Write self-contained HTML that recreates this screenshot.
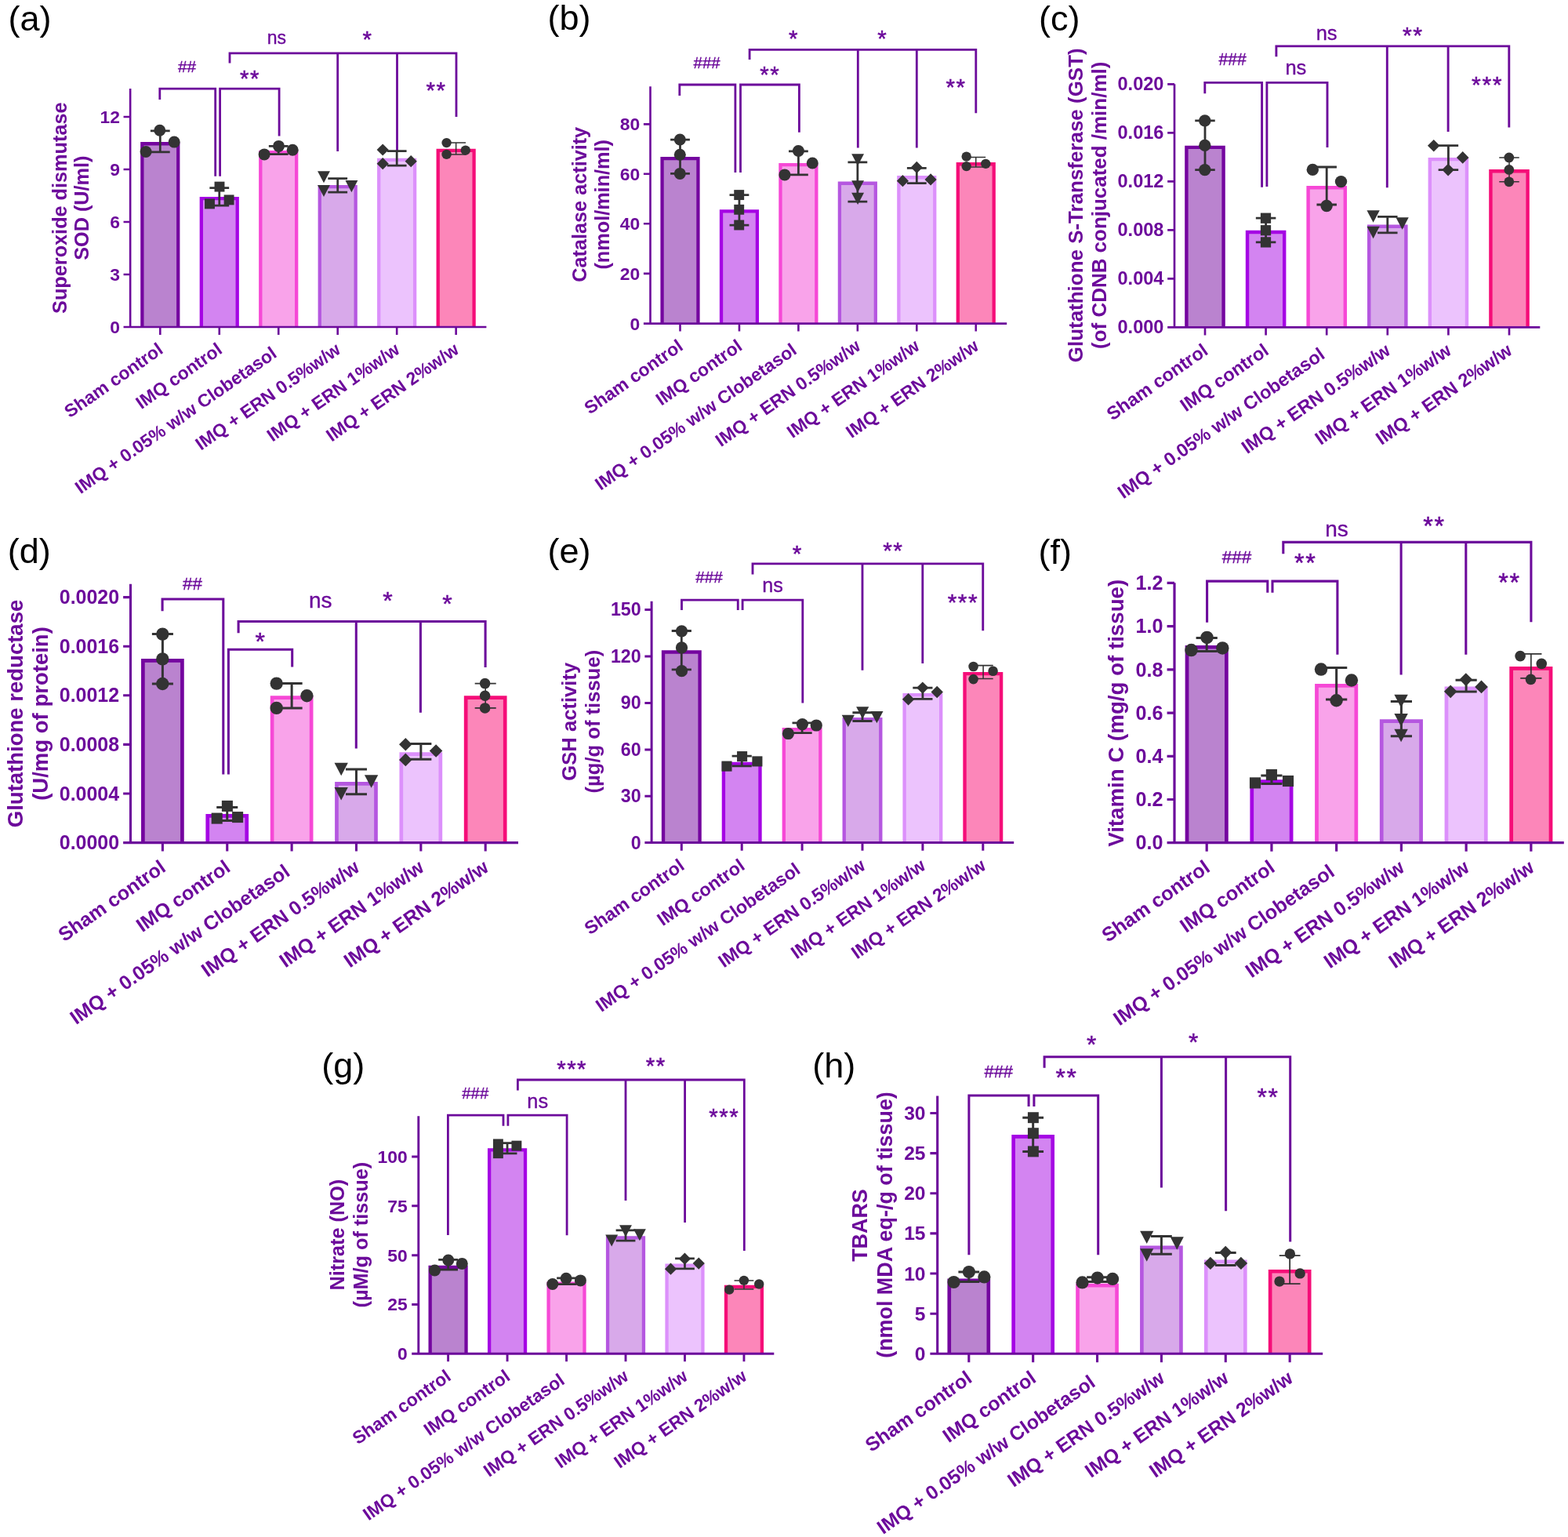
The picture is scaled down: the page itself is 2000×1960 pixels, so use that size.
<!DOCTYPE html>
<html lang="en">
<head>
<meta charset="utf-8">
<title>Antioxidant enzyme levels</title>
<style>
html,body{margin:0;padding:0;background:#fff}
body{width:2000px;height:1960px;overflow:hidden}
svg{display:block}
text{font-family:"Liberation Sans",sans-serif}
.pl{font-size:45px;fill:#000}
.b{font-weight:bold;fill:#6c0a9b}
.s{fill:#6c0a9b;stroke:#6c0a9b;stroke-width:0.35px}
.a{stroke-width:0.5px}
</style>
</head>
<body>
<svg width="2000" height="1960" viewBox="0 0 2000 1960">
<rect width="2000" height="1960" fill="#ffffff"/>
<g>
<text class="pl" x="10.45" y="38.6">(a)</text>
<text class="b" style="font-size:25.25px" text-anchor="middle" transform="translate(84.5 265.2) rotate(-90)">Superoxide dismutase</text>
<text class="b" style="font-size:25.25px" text-anchor="middle" transform="translate(113.2 265.2) rotate(-90)">SOD (U/ml)</text>
<path d="M181.35 417V183.25H227.25V417" fill="#ba83cf" stroke="#74059f" stroke-width="4.3"/>
<path d="M256.82 417V253.15H302.72V417" fill="#d384f1" stroke="#a505e4" stroke-width="4.3"/>
<path d="M332.29 417V194.05H378.19V417" fill="#f9a3ea" stroke="#f648d6" stroke-width="4.3"/>
<path d="M407.76 417V238.05H453.66V417" fill="#d8a9ea" stroke="#b557e0" stroke-width="4.3"/>
<path d="M483.23 417V203.95H529.13V417" fill="#ecc3fd" stroke="#dc90fb" stroke-width="4.3"/>
<path d="M558.7 417V191.85H604.6V417" fill="#fc86b9" stroke="#f50d78" stroke-width="4.3"/>
<g stroke="#6c0a9b" stroke-width="2.6" fill="none">
<path d="M166.15 113.1V417M157.55 417H620.4M157.55 149H166.15M157.55 216H166.15M157.55 283H166.15M157.55 350H166.15M204.3 417V426.9M279.77 417V426.9M355.24 417V426.9M430.71 417V426.9M506.18 417V426.9M581.65 417V426.9"/>
</g>
<g class="b" style="font-size:22.9px">
<text text-anchor="end" x="152.95" y="156.95">12</text>
<text text-anchor="end" x="152.95" y="223.95">9</text>
<text text-anchor="end" x="152.95" y="290.95">6</text>
<text text-anchor="end" x="152.95" y="357.95">3</text>
<text text-anchor="end" x="152.95" y="424.95">0</text>
<text text-anchor="end" style="font-size:23px" transform="translate(209.5 449.2) rotate(-35)">Sham control</text>
<text text-anchor="end" style="font-size:23px" transform="translate(284.97 449.2) rotate(-35)">IMQ control</text>
<text text-anchor="end" style="font-size:23px" transform="translate(354.54 454.2) rotate(-35)">IMQ + 0.05% w/w Clobetasol</text>
<text text-anchor="end" style="font-size:23px" transform="translate(435.91 449.2) rotate(-35)">IMQ + ERN 0.5%w/w</text>
<text text-anchor="end" style="font-size:23px" transform="translate(511.38 449.2) rotate(-35)">IMQ + ERN 1%w/w</text>
<text text-anchor="end" style="font-size:23px" transform="translate(586.85 449.2) rotate(-35)">IMQ + ERN 2%w/w</text>
</g>
<g stroke="#6c0a9b" stroke-width="2.8" fill="none" stroke-linejoin="miter">
<path d="M203.8 126.9V113.1H274.7V224.7"/>
<path d="M280.6 224.7V113.1H356.1V173.5"/>
<path d="M293 80.5V67.8H582V149M430.7 67.8V193M506.5 67.8V192"/>
</g>
<text class="s" style="font-size:20.8px" text-anchor="middle" x="238.6" y="91.68">##</text>
<text class="s" style="font-size:23px" text-anchor="middle" x="352.8" y="56.09">ns</text>
<text class="s a" style="font-size:29.47px;letter-spacing:1.49px" text-anchor="middle" x="469.04" y="60.13">*</text>
<text class="s a" style="font-size:29.47px;letter-spacing:1.49px" text-anchor="middle" x="319.04" y="109.73">**</text>
<text class="s a" style="font-size:29.47px;letter-spacing:1.49px" text-anchor="middle" x="556.54" y="125.33">**</text>
<g fill="#333333" stroke="none">
<path stroke="#333333" stroke-width="2.75" fill="none" d="M204.3 166.8V193.9M191.9 166.8H216.7M191.9 193.9H216.7"/>
<path stroke="#333333" stroke-width="2.75" fill="none" d="M279.77 239.6V262.2M267.37 239.6H292.17M267.37 262.2H292.17"/>
<path stroke="#333333" stroke-width="2.75" fill="none" d="M355.24 186.4V196.5M342.84 186.4H367.64M342.84 196.5H367.64"/>
<path stroke="#333333" stroke-width="2.75" fill="none" d="M430.71 227.5V245.1M418.31 227.5H443.11M418.31 245.1H443.11"/>
<path stroke="#333333" stroke-width="2.75" fill="none" d="M506.18 192.6V211M493.78 192.6H518.58M493.78 211H518.58"/>
<path stroke="#333333" stroke-width="1.5" fill="none" d="M581.65 182.1V196.9M569.25 182.1H594.05M569.25 196.9H594.05"/>
<circle cx="203.8" cy="166.3" r="7.5"/>
<circle cx="222.2" cy="181.1" r="7.5"/>
<circle cx="186.1" cy="193.5" r="7.5"/>
<rect x="273.55" y="231.65" width="12.9" height="12.9"/>
<rect x="285.65" y="248.45" width="12.9" height="12.9"/>
<rect x="261.05" y="253.45" width="12.9" height="12.9"/>
<circle cx="355.5" cy="186.4" r="7.5"/>
<circle cx="373.2" cy="191.3" r="7.5"/>
<circle cx="337.1" cy="196.9" r="7.5"/>
<path d="M405.05 218.25H420.95L413 233.35Z"/>
<path d="M440.45 230.05H456.35L448.4 245.15Z"/>
<path d="M405.05 235.95H420.95L413 251.05Z"/>
<path d="M488.2 183.4L495.8 191L488.2 198.6L480.6 191Z"/>
<path d="M524.2 198.1L531.8 205.7L524.2 213.3L516.6 205.7Z"/>
<path d="M488.2 201.1L495.8 208.7L488.2 216.3L480.6 208.7Z"/>
<circle cx="569.6" cy="182.1" r="6.2"/>
<circle cx="593.8" cy="191.7" r="6.2"/>
<circle cx="569.6" cy="196.9" r="6.2"/>
</g>
</g>
<g>
<text class="pl" x="698.4" y="38.3">(b)</text>
<text class="b" style="font-size:25.25px" text-anchor="middle" transform="translate(748 260.8) rotate(-90)">Catalase activity</text>
<text class="b" style="font-size:25.25px" text-anchor="middle" transform="translate(777.1 260.8) rotate(-90)">(nmol/min/ml)</text>
<path d="M844.55 412.6V202.15H890.45V412.6" fill="#ba83cf" stroke="#74059f" stroke-width="4.3"/>
<path d="M920 412.6V269.45H965.9V412.6" fill="#d384f1" stroke="#a505e4" stroke-width="4.3"/>
<path d="M995.45 412.6V210.15H1041.35V412.6" fill="#f9a3ea" stroke="#f648d6" stroke-width="4.3"/>
<path d="M1070.9 412.6V233.75H1116.8V412.6" fill="#d8a9ea" stroke="#b557e0" stroke-width="4.3"/>
<path d="M1146.35 412.6V226.25H1192.25V412.6" fill="#ecc3fd" stroke="#dc90fb" stroke-width="4.3"/>
<path d="M1221.8 412.6V209.25H1267.7V412.6" fill="#fc86b9" stroke="#f50d78" stroke-width="4.3"/>
<g stroke="#6c0a9b" stroke-width="2.6" fill="none">
<path d="M829.5 110.2V412.6M820.9 412.6H1284.2M820.9 158.4H829.5M820.9 221.8H829.5M820.9 285.2H829.5M820.9 348.9H829.5M867.5 412.6V422.5M942.95 412.6V422.5M1018.4 412.6V422.5M1093.85 412.6V422.5M1169.3 412.6V422.5M1244.75 412.6V422.5"/>
</g>
<g class="b" style="font-size:22.9px">
<text text-anchor="end" x="816.3" y="166.35">80</text>
<text text-anchor="end" x="816.3" y="229.75">60</text>
<text text-anchor="end" x="816.3" y="293.15">40</text>
<text text-anchor="end" x="816.3" y="356.85">20</text>
<text text-anchor="end" x="816.3" y="420.55">0</text>
<text text-anchor="end" style="font-size:23px" transform="translate(872.7 444.8) rotate(-35)">Sham control</text>
<text text-anchor="end" style="font-size:23px" transform="translate(948.15 444.8) rotate(-35)">IMQ control</text>
<text text-anchor="end" style="font-size:23px" transform="translate(1017.7 449.8) rotate(-35)">IMQ + 0.05% w/w Clobetasol</text>
<text text-anchor="end" style="font-size:23px" transform="translate(1099.05 444.8) rotate(-35)">IMQ + ERN 0.5%w/w</text>
<text text-anchor="end" style="font-size:23px" transform="translate(1174.5 444.8) rotate(-35)">IMQ + ERN 1%w/w</text>
<text text-anchor="end" style="font-size:23px" transform="translate(1249.95 444.8) rotate(-35)">IMQ + ERN 2%w/w</text>
</g>
<g stroke="#6c0a9b" stroke-width="2.8" fill="none" stroke-linejoin="miter">
<path d="M866.8 122V108H937.9V220"/>
<path d="M944.5 220V108H1019.4V168.75"/>
<path d="M956.1 75.9V63.4H1244.8V144.3M1094.3 63.4V188.4M1169.3 63.4V188.4"/>
</g>
<text class="s" style="font-size:20.5px" text-anchor="middle" x="901.6" y="87.42">###</text>
<text class="s a" style="font-size:29.47px;letter-spacing:1.49px" text-anchor="middle" x="982.14" y="105.33">**</text>
<text class="s a" style="font-size:29.47px;letter-spacing:1.49px" text-anchor="middle" x="1012.44" y="58.93">*</text>
<text class="s a" style="font-size:29.47px;letter-spacing:1.49px" text-anchor="middle" x="1125.74" y="58.93">*</text>
<text class="s a" style="font-size:29.47px;letter-spacing:1.49px" text-anchor="middle" x="1219.49" y="120.93">**</text>
<g fill="#333333" stroke="none">
<path stroke="#333333" stroke-width="2.75" fill="none" d="M867.5 178V221.4M855.1 178H879.9M855.1 221.4H879.9"/>
<path stroke="#333333" stroke-width="2.75" fill="none" d="M942.95 248.6V287M930.55 248.6H955.35M930.55 287H955.35"/>
<path stroke="#333333" stroke-width="2.75" fill="none" d="M1018.4 192.9V222.9M1006 192.9H1030.8M1006 222.9H1030.8"/>
<path stroke="#333333" stroke-width="2.75" fill="none" d="M1093.85 206.8V257.1M1081.45 206.8H1106.25M1081.45 257.1H1106.25"/>
<path stroke="#333333" stroke-width="2.75" fill="none" d="M1169.3 214.3V233.6M1156.9 214.3H1181.7M1156.9 233.6H1181.7"/>
<path stroke="#333333" stroke-width="1.5" fill="none" d="M1244.75 200.4V212.9M1232.35 200.4H1257.15M1232.35 212.9H1257.15"/>
<circle cx="867.3" cy="178" r="7.5"/>
<circle cx="867.3" cy="197.3" r="7.5"/>
<circle cx="867.3" cy="221.4" r="7.5"/>
<rect x="936.25" y="242.15" width="12.9" height="12.9"/>
<rect x="936.25" y="260.85" width="12.9" height="12.9"/>
<rect x="936.25" y="280.55" width="12.9" height="12.9"/>
<circle cx="1018.4" cy="192.5" r="7.5"/>
<circle cx="1036.25" cy="208" r="7.5"/>
<circle cx="1000.9" cy="222.9" r="7.5"/>
<path d="M1086.15 196.15H1102.05L1094.1 211.25Z"/>
<path d="M1086.15 230.15H1102.05L1094.1 245.25Z"/>
<path d="M1086.15 245.85H1102.05L1094.1 260.95Z"/>
<path d="M1169.3 205.8L1176.9 213.4L1169.3 221L1161.7 213.4Z"/>
<path d="M1151.4 223.1L1159 230.7L1151.4 238.3L1143.8 230.7Z"/>
<path d="M1187.1 221.3L1194.7 228.9L1187.1 236.5L1179.5 228.9Z"/>
<circle cx="1232.7" cy="199.6" r="6.2"/>
<circle cx="1232.7" cy="212.1" r="6.2"/>
<circle cx="1257.3" cy="208.9" r="6.2"/>
</g>
</g>
<g>
<text class="pl" x="1325" y="38.6">(c)</text>
<text class="b" style="font-size:25.96px" text-anchor="middle" transform="translate(1380.7 261.8) rotate(-90)">Glutathione S-Transferase (GST)</text>
<text class="b" style="font-size:25.96px" text-anchor="middle" transform="translate(1411.4 261.8) rotate(-90)">(of CDNB conjucated /min/ml)</text>
<path d="M1513.41 417.3V187.91H1560.59V417.3" fill="#ba83cf" stroke="#74059f" stroke-width="4.42"/>
<path d="M1591.01 417.3V295.96H1638.19V417.3" fill="#d384f1" stroke="#a505e4" stroke-width="4.42"/>
<path d="M1668.61 417.3V239.31H1715.79V417.3" fill="#f9a3ea" stroke="#f648d6" stroke-width="4.42"/>
<path d="M1746.21 417.3V288.81H1793.39V417.3" fill="#d8a9ea" stroke="#b557e0" stroke-width="4.42"/>
<path d="M1823.81 417.3V203.11H1870.99V417.3" fill="#ecc3fd" stroke="#dc90fb" stroke-width="4.42"/>
<path d="M1901.41 417.3V218.31H1948.59V417.3" fill="#fc86b9" stroke="#f50d78" stroke-width="4.42"/>
<g stroke="#6c0a9b" stroke-width="2.67" fill="none">
<path d="M1498 107.3V417.3M1489.16 417.3H1964.3M1489.16 107.3H1498M1489.16 169.3H1498M1489.16 231.3H1498M1489.16 293.3H1498M1489.16 355.3H1498M1537 417.3V427.48M1614.6 417.3V427.48M1692.2 417.3V427.48M1769.8 417.3V427.48M1847.4 417.3V427.48M1925 417.3V427.48"/>
</g>
<g class="b" style="font-size:23.54px">
<text text-anchor="end" x="1484.43" y="115.47">0.020</text>
<text text-anchor="end" x="1484.43" y="177.47">0.016</text>
<text text-anchor="end" x="1484.43" y="239.47">0.012</text>
<text text-anchor="end" x="1484.43" y="301.47">0.008</text>
<text text-anchor="end" x="1484.43" y="363.47">0.004</text>
<text text-anchor="end" x="1484.43" y="425.47">0.000</text>
<text text-anchor="end" style="font-size:23.64px" transform="translate(1542.35 450.4) rotate(-35)">Sham control</text>
<text text-anchor="end" style="font-size:23.64px" transform="translate(1619.95 450.4) rotate(-35)">IMQ control</text>
<text text-anchor="end" style="font-size:23.64px" transform="translate(1691.48 455.54) rotate(-35)">IMQ + 0.05% w/w Clobetasol</text>
<text text-anchor="end" style="font-size:23.64px" transform="translate(1775.15 450.4) rotate(-35)">IMQ + ERN 0.5%w/w</text>
<text text-anchor="end" style="font-size:23.64px" transform="translate(1852.75 450.4) rotate(-35)">IMQ + ERN 1%w/w</text>
<text text-anchor="end" style="font-size:23.64px" transform="translate(1930.35 450.4) rotate(-35)">IMQ + ERN 2%w/w</text>
</g>
<g stroke="#6c0a9b" stroke-width="2.88" fill="none" stroke-linejoin="miter">
<path d="M1536.8 119.3V105.4H1609.6V238.75"/>
<path d="M1615.9 238V105.4H1693V187.9"/>
<path d="M1627.9 72.3V58.9H1924.8V162.5M1769.3 58.9V239.3M1847.1 58.9V167.9"/>
</g>
<text class="s" style="font-size:21.2px" text-anchor="middle" x="1572.1" y="83.31">###</text>
<text class="s" style="font-size:25.5px" text-anchor="middle" x="1652.9" y="95.26">ns</text>
<text class="s" style="font-size:25.5px" text-anchor="middle" x="1692.1" y="51.36">ns</text>
<text class="s a" style="font-size:30.3px;letter-spacing:1.53px" text-anchor="middle" x="1802.37" y="55.45">**</text>
<text class="s a" style="font-size:30.3px;letter-spacing:1.53px" text-anchor="middle" x="1897.07" y="118.15">***</text>
<g fill="#333333" stroke="none">
<path stroke="#333333" stroke-width="2.83" fill="none" d="M1537 153.9V216.6M1524.25 153.9H1549.75M1524.25 216.6H1549.75"/>
<path stroke="#333333" stroke-width="2.83" fill="none" d="M1614.6 278.2V308.9M1601.85 278.2H1627.35M1601.85 308.9H1627.35"/>
<path stroke="#333333" stroke-width="2.83" fill="none" d="M1692.2 213V261M1679.45 213H1704.95M1679.45 261H1704.95"/>
<path stroke="#333333" stroke-width="2.83" fill="none" d="M1769.8 276.4V296.8M1757.05 276.4H1782.55M1757.05 296.8H1782.55"/>
<path stroke="#333333" stroke-width="2.83" fill="none" d="M1847.4 185.7V216.6M1834.65 185.7H1860.15M1834.65 216.6H1860.15"/>
<path stroke="#333333" stroke-width="1.55" fill="none" d="M1925 200.9V231.8M1912.25 200.9H1937.75M1912.25 231.8H1937.75"/>
<circle cx="1536.8" cy="153.9" r="7.71"/>
<circle cx="1536.8" cy="185.4" r="7.71"/>
<circle cx="1536.8" cy="216.6" r="7.71"/>
<rect x="1607.87" y="271.57" width="13.26" height="13.26"/>
<rect x="1607.87" y="287.12" width="13.26" height="13.26"/>
<rect x="1607.87" y="302.27" width="13.26" height="13.26"/>
<circle cx="1674.3" cy="216.4" r="7.71"/>
<circle cx="1710.5" cy="231.6" r="7.71"/>
<circle cx="1692.1" cy="262.5" r="7.71"/>
<path d="M1743.43 268.34H1759.77L1751.6 283.86Z"/>
<path d="M1780.43 277.24H1796.77L1788.6 292.76Z"/>
<path d="M1743.43 288.84H1759.77L1751.6 304.36Z"/>
<path d="M1828.75 177.89L1836.56 185.7L1828.75 193.51L1820.94 185.7Z"/>
<path d="M1865.7 193.09L1873.51 200.9L1865.7 208.71L1857.89 200.9Z"/>
<path d="M1847.1 208.79L1854.91 216.6L1847.1 224.41L1839.29 216.6Z"/>
<circle cx="1924.8" cy="200.9" r="6.37"/>
<circle cx="1924.8" cy="216.4" r="6.37"/>
<circle cx="1924.8" cy="231.8" r="6.37"/>
</g>
</g>
<g>
<text class="pl" x="9.85" y="718.45">(d)</text>
<text class="b" style="font-size:27.52px" text-anchor="middle" transform="translate(29.4 910) rotate(-90)">Glutathione reductase</text>
<text class="b" style="font-size:27.52px" text-anchor="middle" transform="translate(61 910) rotate(-90)">(U/mg of protein)</text>
<path d="M182.38 1074.6V842.34H232.42V1074.6" fill="#ba83cf" stroke="#74059f" stroke-width="4.69"/>
<path d="M264.74 1074.6V1040.44H314.78V1074.6" fill="#d384f1" stroke="#a505e4" stroke-width="4.69"/>
<path d="M347.1 1074.6V889.64H397.14V1074.6" fill="#f9a3ea" stroke="#f648d6" stroke-width="4.69"/>
<path d="M429.46 1074.6V999.44H479.5V1074.6" fill="#d8a9ea" stroke="#b557e0" stroke-width="4.69"/>
<path d="M511.82 1074.6V961.64H561.86V1074.6" fill="#ecc3fd" stroke="#dc90fb" stroke-width="4.69"/>
<path d="M594.18 1074.6V889.64H644.22V1074.6" fill="#fc86b9" stroke="#f50d78" stroke-width="4.69"/>
<g stroke="#6c0a9b" stroke-width="3.1" fill="none">
<path d="M166.5 744.8V1074.6M157.13 1074.6H661M157.13 761.6H166.5M157.13 824.2H166.5M157.13 886.8H166.5M157.13 949.4H166.5M157.13 1012H166.5M207.4 1074.6V1085.52M289.76 1074.6V1085.52M372.12 1074.6V1085.52M454.48 1074.6V1085.52M536.84 1074.6V1085.52M619.2 1074.6V1085.52"/>
</g>
<g class="b" style="font-size:24.96px">
<text text-anchor="end" x="152.11" y="770.26">0.0020</text>
<text text-anchor="end" x="152.11" y="832.86">0.0016</text>
<text text-anchor="end" x="152.11" y="895.46">0.0012</text>
<text text-anchor="end" x="152.11" y="958.06">0.0008</text>
<text text-anchor="end" x="152.11" y="1020.66">0.0004</text>
<text text-anchor="end" x="152.11" y="1083.26">0.0000</text>
<text text-anchor="end" style="font-size:25.07px" transform="translate(213.07 1109.7) rotate(-35)">Sham control</text>
<text text-anchor="end" style="font-size:25.07px" transform="translate(295.43 1109.7) rotate(-35)">IMQ control</text>
<text text-anchor="end" style="font-size:25.07px" transform="translate(371.36 1115.15) rotate(-35)">IMQ + 0.05% w/w Clobetasol</text>
<text text-anchor="end" style="font-size:25.07px" transform="translate(460.15 1109.7) rotate(-35)">IMQ + ERN 0.5%w/w</text>
<text text-anchor="end" style="font-size:25.07px" transform="translate(542.51 1109.7) rotate(-35)">IMQ + ERN 1%w/w</text>
<text text-anchor="end" style="font-size:25.07px" transform="translate(624.87 1109.7) rotate(-35)">IMQ + ERN 2%w/w</text>
</g>
<g stroke="#6c0a9b" stroke-width="3.05" fill="none" stroke-linejoin="miter">
<path d="M207.1 779.3V763.9H284.8V987.4"/>
<path d="M291.4 987.4V828.3H372.7V850.4"/>
<path d="M304.1 807.3V792.5H619.1V851.1M454.3 792.5V954.6M536.4 792.5V908.75"/>
</g>
<text class="s" style="font-size:22.3px" text-anchor="middle" x="245.5" y="752.49">##</text>
<text class="s" style="font-size:28px" text-anchor="middle" x="408.75" y="774.82">ns</text>
<text class="s a" style="font-size:32.12px;letter-spacing:1.62px" text-anchor="middle" x="495.41" y="777.48">*</text>
<text class="s a" style="font-size:32.12px;letter-spacing:1.62px" text-anchor="middle" x="571.31" y="781.18">*</text>
<text class="s a" style="font-size:32.12px;letter-spacing:1.62px" text-anchor="middle" x="332.51" y="828.88">*</text>
<g fill="#333333" stroke="none">
<path stroke="#333333" stroke-width="3" fill="none" d="M207.4 808.6V872M193.88 808.6H220.92M193.88 872H220.92"/>
<path stroke="#333333" stroke-width="3" fill="none" d="M289.76 1029.5V1046.5M276.24 1029.5H303.28M276.24 1046.5H303.28"/>
<path stroke="#333333" stroke-width="3" fill="none" d="M372.12 871.6V902.9M358.6 871.6H385.64M358.6 902.9H385.64"/>
<path stroke="#333333" stroke-width="3" fill="none" d="M454.48 981.1V1012.7M440.96 981.1H468M440.96 1012.7H468"/>
<path stroke="#333333" stroke-width="3" fill="none" d="M536.84 948.6V968.2M523.32 948.6H550.36M523.32 968.2H550.36"/>
<path stroke="#333333" stroke-width="1.6" fill="none" d="M619.2 871.6V902.9M605.68 871.6H632.72M605.68 902.9H632.72"/>
<circle cx="207.3" cy="808.6" r="8.18"/>
<circle cx="207.3" cy="840.4" r="8.18"/>
<circle cx="207.3" cy="872" r="8.18"/>
<rect x="282.87" y="1020.87" width="14.06" height="14.06"/>
<rect x="269.67" y="1036.57" width="14.06" height="14.06"/>
<rect x="296.07" y="1035.07" width="14.06" height="14.06"/>
<circle cx="352.7" cy="871.6" r="8.18"/>
<circle cx="391.4" cy="887.3" r="8.18"/>
<circle cx="352.7" cy="902.9" r="8.18"/>
<path d="M426.53 972.77H443.87L435.2 989.23Z"/>
<path d="M464.93 988.37H482.27L473.6 1004.83Z"/>
<path d="M426.53 1004.07H443.87L435.2 1020.53Z"/>
<path d="M517.3 941.02L525.58 949.3L517.3 957.58L509.02 949.3Z"/>
<path d="M556.1 949.22L564.38 957.5L556.1 965.78L547.82 957.5Z"/>
<path d="M517.3 960.62L525.58 968.9L517.3 977.18L509.02 968.9Z"/>
<circle cx="618.6" cy="871.6" r="6.76"/>
<circle cx="618.6" cy="887.3" r="6.76"/>
<circle cx="618.6" cy="902.9" r="6.76"/>
</g>
</g>
<g>
<text class="pl" x="698.4" y="718.45">(e)</text>
<text class="b" style="font-size:25.63px" text-anchor="middle" transform="translate(735.4 920.2) rotate(-90)">GSH activity</text>
<text class="b" style="font-size:25.63px" text-anchor="middle" transform="translate(765.4 920.2) rotate(-90)">(µg/g of tissue)</text>
<path d="M846.01 1074.6V831.48H892.59V1074.6" fill="#ba83cf" stroke="#74059f" stroke-width="4.36"/>
<path d="M922.91 1074.6V973.98H969.49V1074.6" fill="#d384f1" stroke="#a505e4" stroke-width="4.36"/>
<path d="M999.81 1074.6V930.18H1046.39V1074.6" fill="#f9a3ea" stroke="#f648d6" stroke-width="4.36"/>
<path d="M1076.71 1074.6V917.18H1123.29V1074.6" fill="#d8a9ea" stroke="#b557e0" stroke-width="4.36"/>
<path d="M1153.61 1074.6V886.08H1200.19V1074.6" fill="#ecc3fd" stroke="#dc90fb" stroke-width="4.36"/>
<path d="M1230.51 1074.6V859.18H1277.09V1074.6" fill="#fc86b9" stroke="#f50d78" stroke-width="4.36"/>
<g stroke="#6c0a9b" stroke-width="3" fill="none">
<path d="M831.1 766.8V1074.6M822.37 1074.6H1293.2M822.37 777.4H831.1M822.37 836.9H831.1M822.37 896.4H831.1M822.37 955.9H831.1M822.37 1015.3H831.1M869.3 1074.6V1084.83M946.2 1074.6V1084.83M1023.1 1074.6V1084.83M1100 1074.6V1084.83M1176.9 1074.6V1084.83M1253.8 1074.6V1084.83"/>
</g>
<g class="b" style="font-size:23.24px">
<text text-anchor="end" x="817.7" y="785.47">150</text>
<text text-anchor="end" x="817.7" y="844.97">120</text>
<text text-anchor="end" x="817.7" y="904.47">90</text>
<text text-anchor="end" x="817.7" y="963.97">60</text>
<text text-anchor="end" x="817.7" y="1023.37">30</text>
<text text-anchor="end" x="817.7" y="1082.67">0</text>
<text text-anchor="end" style="font-size:23.34px" transform="translate(874.58 1107.28) rotate(-35)">Sham control</text>
<text text-anchor="end" style="font-size:23.34px" transform="translate(951.48 1107.28) rotate(-35)">IMQ control</text>
<text text-anchor="end" style="font-size:23.34px" transform="translate(1022.39 1112.36) rotate(-35)">IMQ + 0.05% w/w Clobetasol</text>
<text text-anchor="end" style="font-size:23.34px" transform="translate(1105.28 1107.28) rotate(-35)">IMQ + ERN 0.5%w/w</text>
<text text-anchor="end" style="font-size:23.34px" transform="translate(1182.18 1107.28) rotate(-35)">IMQ + ERN 1%w/w</text>
<text text-anchor="end" style="font-size:23.34px" transform="translate(1259.08 1107.28) rotate(-35)">IMQ + ERN 2%w/w</text>
</g>
<g stroke="#6c0a9b" stroke-width="2.84" fill="none" stroke-linejoin="miter">
<path d="M869.5 778V765.2H941.25V778"/>
<path d="M947.1 778V765.2H1023.8V896.5"/>
<path d="M960 732.5V718.9H1253.75V804.3M1100 718.9V854.8M1176.8 718.9V845.9"/>
</g>
<text class="s" style="font-size:20.8px" text-anchor="middle" x="904.6" y="743.18">###</text>
<text class="s" style="font-size:25.2px" text-anchor="middle" x="985.5" y="755.28">ns</text>
<text class="s a" style="font-size:29.91px;letter-spacing:1.51px" text-anchor="middle" x="1017.26" y="716.06">*</text>
<text class="s a" style="font-size:29.91px;letter-spacing:1.51px" text-anchor="middle" x="1139.36" y="711.66">**</text>
<text class="s a" style="font-size:29.91px;letter-spacing:1.51px" text-anchor="middle" x="1228.46" y="777.96">***</text>
<g fill="#333333" stroke="none">
<path stroke="#333333" stroke-width="2.79" fill="none" d="M869.3 804.5V853.9M856.71 804.5H881.89M856.71 853.9H881.89"/>
<path stroke="#333333" stroke-width="2.79" fill="none" d="M946.2 964.1V976.8M933.61 964.1H958.79M933.61 976.8H958.79"/>
<path stroke="#333333" stroke-width="2.79" fill="none" d="M1023.1 921.8V934.6M1010.51 921.8H1035.69M1010.51 934.6H1035.69"/>
<path stroke="#333333" stroke-width="2.79" fill="none" d="M1100 908.75V919.5M1087.41 908.75H1112.59M1087.41 919.5H1112.59"/>
<path stroke="#333333" stroke-width="2.79" fill="none" d="M1176.9 877.1V891.4M1164.31 877.1H1189.49M1164.31 891.4H1189.49"/>
<path stroke="#333333" stroke-width="1.55" fill="none" d="M1254.1 848.6V865.5M1241.51 848.6H1266.69M1241.51 865.5H1266.69"/>
<circle cx="869.5" cy="804.8" r="7.61"/>
<circle cx="869.5" cy="825.9" r="7.61"/>
<circle cx="869.5" cy="855.7" r="7.61"/>
<rect x="940.05" y="958.05" width="13.09" height="13.09"/>
<rect x="920.45" y="970.55" width="13.09" height="13.09"/>
<rect x="959.35" y="964.35" width="13.09" height="13.09"/>
<circle cx="1005.4" cy="935.5" r="7.61"/>
<circle cx="1023.4" cy="923.6" r="7.61"/>
<circle cx="1041.25" cy="925" r="7.61"/>
<path d="M1073.73 911.73H1089.87L1081.8 927.07Z"/>
<path d="M1092.13 901.33H1108.27L1100.2 916.67Z"/>
<path d="M1110.33 907.03H1126.47L1118.4 922.37Z"/>
<path d="M1176.8 869.39L1184.51 877.1L1176.8 884.81L1169.09 877.1Z"/>
<path d="M1195.2 874.79L1202.91 882.5L1195.2 890.21L1187.49 882.5Z"/>
<path d="M1158.6 884.09L1166.31 891.8L1158.6 899.51L1150.89 891.8Z"/>
<circle cx="1241.6" cy="850" r="6.29"/>
<circle cx="1266.6" cy="855.7" r="6.29"/>
<circle cx="1241.6" cy="866.1" r="6.29"/>
</g>
</g>
<g>
<text class="pl" x="1324.5" y="718.5">(f)</text>
<text class="b" style="font-size:27.7px" text-anchor="middle" transform="translate(1432.8 909.3) rotate(-90)">Vitamin C (mg/g of tissue)</text>
<path d="M1514.02 1074.6V825.26H1564.38V1074.6" fill="#ba83cf" stroke="#74059f" stroke-width="4.72"/>
<path d="M1596.75 1074.6V996.56H1647.11V1074.6" fill="#d384f1" stroke="#a505e4" stroke-width="4.72"/>
<path d="M1679.48 1074.6V874.36H1729.84V1074.6" fill="#f9a3ea" stroke="#f648d6" stroke-width="4.72"/>
<path d="M1762.21 1074.6V919.66H1812.57V1074.6" fill="#d8a9ea" stroke="#b557e0" stroke-width="4.72"/>
<path d="M1844.94 1074.6V877.76H1895.3V1074.6" fill="#ecc3fd" stroke="#dc90fb" stroke-width="4.72"/>
<path d="M1927.67 1074.6V852.36H1978.03V1074.6" fill="#fc86b9" stroke="#f50d78" stroke-width="4.72"/>
<g stroke="#6c0a9b" stroke-width="3.2" fill="none">
<path d="M1498 743.3V1074.6M1488.57 1074.6H1994.8M1488.57 743.3H1498M1488.57 798.6H1498M1488.57 853.9H1498M1488.57 909.1H1498M1488.57 964.3H1498M1488.57 1019.5H1498M1539.2 1074.6V1085.63M1621.93 1074.6V1085.63M1704.66 1074.6V1085.63M1787.39 1074.6V1085.63M1870.12 1074.6V1085.63M1952.85 1074.6V1085.63"/>
</g>
<g class="b" style="font-size:25.12px">
<text text-anchor="end" x="1483.52" y="752.02">1.2</text>
<text text-anchor="end" x="1483.52" y="807.32">1.0</text>
<text text-anchor="end" x="1483.52" y="862.62">0.8</text>
<text text-anchor="end" x="1483.52" y="917.82">0.6</text>
<text text-anchor="end" x="1483.52" y="973.02">0.4</text>
<text text-anchor="end" x="1483.52" y="1028.22">0.2</text>
<text text-anchor="end" x="1483.52" y="1083.32">0.0</text>
<text text-anchor="end" style="font-size:25.23px" transform="translate(1544.9 1109.92) rotate(-35)">Sham control</text>
<text text-anchor="end" style="font-size:25.23px" transform="translate(1627.63 1109.92) rotate(-35)">IMQ control</text>
<text text-anchor="end" style="font-size:25.23px" transform="translate(1703.89 1115.41) rotate(-35)">IMQ + 0.05% w/w Clobetasol</text>
<text text-anchor="end" style="font-size:25.23px" transform="translate(1793.09 1109.92) rotate(-35)">IMQ + ERN 0.5%w/w</text>
<text text-anchor="end" style="font-size:25.23px" transform="translate(1875.82 1109.92) rotate(-35)">IMQ + ERN 1%w/w</text>
<text text-anchor="end" style="font-size:25.23px" transform="translate(1958.55 1109.92) rotate(-35)">IMQ + ERN 2%w/w</text>
</g>
<g stroke="#6c0a9b" stroke-width="3.07" fill="none" stroke-linejoin="miter">
<path d="M1539.6 793.75V741.1H1616.8V755.7"/>
<path d="M1623 755.7V741.1H1705.9V834.8"/>
<path d="M1636.8 706.25V691.4H1952.9V793.2M1787.1 691.4V860.4M1869.8 691.4V834.8"/>
</g>
<text class="s" style="font-size:22.5px" text-anchor="middle" x="1577.5" y="718.06">###</text>
<text class="s" style="font-size:28px" text-anchor="middle" x="1705" y="683.52">ns</text>
<text class="s a" style="font-size:32.33px;letter-spacing:1.63px" text-anchor="middle" x="1829.57" y="682.19">**</text>
<text class="s a" style="font-size:32.33px;letter-spacing:1.63px" text-anchor="middle" x="1925.42" y="753.69">**</text>
<text class="s a" style="font-size:32.33px;letter-spacing:1.63px" text-anchor="middle" x="1665.32" y="728.79">**</text>
<g fill="#333333" stroke="none">
<path stroke="#333333" stroke-width="3.02" fill="none" d="M1539.2 813.4V830.4M1525.6 813.4H1552.8M1525.6 830.4H1552.8"/>
<path stroke="#333333" stroke-width="3.02" fill="none" d="M1621.93 989V999.4M1608.33 989H1635.53M1608.33 999.4H1635.53"/>
<path stroke="#333333" stroke-width="3.02" fill="none" d="M1704.66 851.4V892M1691.06 851.4H1718.26M1691.06 892H1718.26"/>
<path stroke="#333333" stroke-width="3.02" fill="none" d="M1787.39 894.6V938.75M1773.79 894.6H1800.99M1773.79 938.75H1800.99"/>
<path stroke="#333333" stroke-width="3.02" fill="none" d="M1870.12 867.3V882.1M1856.52 867.3H1883.72M1856.52 882.1H1883.72"/>
<path stroke="#333333" stroke-width="1.65" fill="none" d="M1952.85 833.9V864.8M1939.25 833.9H1966.45M1939.25 864.8H1966.45"/>
<circle cx="1539.5" cy="812.9" r="8.23"/>
<circle cx="1519.5" cy="829.1" r="8.23"/>
<circle cx="1559.3" cy="826.4" r="8.23"/>
<rect x="1614.82" y="980.92" width="14.15" height="14.15"/>
<rect x="1593.92" y="991.32" width="14.15" height="14.15"/>
<rect x="1635.92" y="988.92" width="14.15" height="14.15"/>
<circle cx="1685" cy="853.6" r="8.23"/>
<circle cx="1723.9" cy="867.5" r="8.23"/>
<circle cx="1704.6" cy="893.2" r="8.23"/>
<path d="M1778.38 885.81H1795.82L1787.1 902.39Z"/>
<path d="M1778.38 909.91H1795.82L1787.1 926.49Z"/>
<path d="M1778.38 929.71H1795.82L1787.1 946.29Z"/>
<path d="M1869.8 858.26L1878.14 866.6L1869.8 874.94L1861.46 866.6Z"/>
<path d="M1850.2 873.46L1858.54 881.8L1850.2 890.14L1841.86 881.8Z"/>
<path d="M1889.5 867.56L1897.84 875.9L1889.5 884.24L1881.16 875.9Z"/>
<circle cx="1939.1" cy="836.6" r="6.8"/>
<circle cx="1966.25" cy="846.4" r="6.8"/>
<circle cx="1952.5" cy="866.4" r="6.8"/>
</g>
</g>
<g>
<text class="pl" x="410.2" y="1373.8">(g)</text>
<text class="b" style="font-size:25.25px" text-anchor="middle" transform="translate(439.2 1574.6) rotate(-90)">Nitrate (NO)</text>
<text class="b" style="font-size:25.25px" text-anchor="middle" transform="translate(469.1 1574.6) rotate(-90)">(µM/g of tissue)</text>
<path d="M548.65 1726.3V1615.9H594.55V1726.3" fill="#ba83cf" stroke="#74059f" stroke-width="4.3"/>
<path d="M624.12 1726.3V1466.45H670.02V1726.3" fill="#d384f1" stroke="#a505e4" stroke-width="4.3"/>
<path d="M699.59 1726.3V1636.75H745.49V1726.3" fill="#f9a3ea" stroke="#f648d6" stroke-width="4.3"/>
<path d="M775.06 1726.3V1578.4H820.96V1726.3" fill="#d8a9ea" stroke="#b557e0" stroke-width="4.3"/>
<path d="M850.53 1726.3V1613.55H896.43V1726.3" fill="#ecc3fd" stroke="#dc90fb" stroke-width="4.3"/>
<path d="M926 1726.3V1640.9H971.9V1726.3" fill="#fc86b9" stroke="#f50d78" stroke-width="4.3"/>
<g stroke="#6c0a9b" stroke-width="2.9" fill="none">
<path d="M533.8 1423.2V1726.3M525.2 1726.3H987.3M525.2 1475H533.8M525.2 1537.8H533.8M525.2 1600.7H533.8M525.2 1663.5H533.8M571.6 1726.3V1736.35M647.07 1726.3V1736.35M722.54 1726.3V1736.35M798.01 1726.3V1736.35M873.48 1726.3V1736.35M948.95 1726.3V1736.35"/>
</g>
<g class="b" style="font-size:22.9px">
<text text-anchor="end" x="519.8" y="1482.95">100</text>
<text text-anchor="end" x="519.8" y="1545.75">75</text>
<text text-anchor="end" x="519.8" y="1608.65">50</text>
<text text-anchor="end" x="519.8" y="1671.45">25</text>
<text text-anchor="end" x="519.8" y="1734.25">0</text>
<text text-anchor="end" style="font-size:23px" transform="translate(576.8 1758.5) rotate(-35)">Sham control</text>
<text text-anchor="end" style="font-size:23px" transform="translate(652.27 1758.5) rotate(-35)">IMQ control</text>
<text text-anchor="end" style="font-size:23px" transform="translate(721.84 1763.5) rotate(-35)">IMQ + 0.05% w/w Clobetasol</text>
<text text-anchor="end" style="font-size:23px" transform="translate(803.21 1758.5) rotate(-35)">IMQ + ERN 0.5%w/w</text>
<text text-anchor="end" style="font-size:23px" transform="translate(878.68 1758.5) rotate(-35)">IMQ + ERN 1%w/w</text>
<text text-anchor="end" style="font-size:23px" transform="translate(954.15 1758.5) rotate(-35)">IMQ + ERN 2%w/w</text>
</g>
<g stroke="#6c0a9b" stroke-width="2.8" fill="none" stroke-linejoin="miter">
<path d="M571.4 1575V1422.1H642V1435.7"/>
<path d="M647.9 1435.7V1422.1H723.1V1575.2"/>
<path d="M660.4 1390.5V1377H949.3V1595M798 1377V1531.1M873.6 1377V1558.9"/>
</g>
<text class="s" style="font-size:20.4px" text-anchor="middle" x="606.25" y="1400.64">###</text>
<text class="s" style="font-size:25.4px" text-anchor="middle" x="685.7" y="1412.73">ns</text>
<text class="s a" style="font-size:29.47px;letter-spacing:1.49px" text-anchor="middle" x="729.64" y="1372.73">***</text>
<text class="s a" style="font-size:29.47px;letter-spacing:1.49px" text-anchor="middle" x="836.64" y="1369.13">**</text>
<text class="s a" style="font-size:29.47px;letter-spacing:1.49px" text-anchor="middle" x="923.74" y="1434.33">***</text>
<g fill="#333333" stroke="none">
<path stroke="#333333" stroke-width="2.75" fill="none" d="M571.6 1606.25V1619.1M559.2 1606.25H584M559.2 1619.1H584"/>
<path stroke="#333333" stroke-width="2.75" fill="none" d="M647.07 1457.5V1470.9M634.67 1457.5H659.47M634.67 1470.9H659.47"/>
<path stroke="#333333" stroke-width="2.75" fill="none" d="M722.54 1629.8V1637.5M710.14 1629.8H734.94M710.14 1637.5H734.94"/>
<path stroke="#333333" stroke-width="2.75" fill="none" d="M798.01 1568.75V1582M785.61 1568.75H810.41M785.61 1582H810.41"/>
<path stroke="#333333" stroke-width="2.75" fill="none" d="M873.48 1604.8V1617.9M861.08 1604.8H885.88M861.08 1617.9H885.88"/>
<path stroke="#333333" stroke-width="1.5" fill="none" d="M948.95 1632.9V1644.1M936.55 1632.9H961.35M936.55 1644.1H961.35"/>
<circle cx="554.5" cy="1620" r="7.5"/>
<circle cx="571.8" cy="1607" r="7.5"/>
<circle cx="589.3" cy="1611.4" r="7.5"/>
<rect x="628.95" y="1452.45" width="12.9" height="12.9"/>
<rect x="628.95" y="1464.25" width="12.9" height="12.9"/>
<rect x="652.45" y="1454.65" width="12.9" height="12.9"/>
<circle cx="704.8" cy="1637.5" r="7.5"/>
<circle cx="722.1" cy="1630.2" r="7.5"/>
<circle cx="740.4" cy="1632.9" r="7.5"/>
<path d="M772.25 1574.45H788.15L780.2 1589.55Z"/>
<path d="M790.05 1562.25H805.95L798 1577.35Z"/>
<path d="M807.95 1567.25H823.85L815.9 1582.35Z"/>
<path d="M873.4 1597.6L881 1605.2L873.4 1612.8L865.8 1605.2Z"/>
<path d="M891.25 1603.5L898.85 1611.1L891.25 1618.7L883.65 1611.1Z"/>
<path d="M855.5 1610.6L863.1 1618.2L855.5 1625.8L847.9 1618.2Z"/>
<circle cx="948.9" cy="1632.9" r="6.2"/>
<circle cx="968.2" cy="1637.5" r="6.2"/>
<circle cx="930.2" cy="1644.6" r="6.2"/>
</g>
</g>
<g>
<text class="pl" x="1036.3" y="1373.9">(h)</text>
<text class="b" style="font-size:26.9px" text-anchor="middle" transform="translate(1106.3 1562.5) rotate(-90)">TBARS</text>
<text class="b" style="font-size:26.9px" text-anchor="middle" transform="translate(1137.7 1562) rotate(-90)">(nmol MDA eq-/g of tissue)</text>
<path d="M1210.77 1726.3V1632.82H1260.83V1726.3" fill="#ba83cf" stroke="#74059f" stroke-width="4.64"/>
<path d="M1292.64 1726.3V1449.42H1342.7V1726.3" fill="#d384f1" stroke="#a505e4" stroke-width="4.64"/>
<path d="M1374.51 1726.3V1639.12H1424.57V1726.3" fill="#f9a3ea" stroke="#f648d6" stroke-width="4.64"/>
<path d="M1456.38 1726.3V1590.92H1506.44V1726.3" fill="#d8a9ea" stroke="#b557e0" stroke-width="4.64"/>
<path d="M1538.25 1726.3V1608.72H1588.31V1726.3" fill="#ecc3fd" stroke="#dc90fb" stroke-width="4.64"/>
<path d="M1620.12 1726.3V1621.22H1670.18V1726.3" fill="#fc86b9" stroke="#f50d78" stroke-width="4.64"/>
<g stroke="#6c0a9b" stroke-width="3.1" fill="none">
<path d="M1195.7 1397.5V1726.3M1186.41 1726.3H1687.2M1186.41 1419.5H1195.7M1186.41 1470.6H1195.7M1186.41 1521.8H1195.7M1186.41 1572.9H1195.7M1186.41 1624H1195.7M1186.41 1675.2H1195.7M1235.8 1726.3V1737.14M1317.67 1726.3V1737.14M1399.54 1726.3V1737.14M1481.41 1726.3V1737.14M1563.28 1726.3V1737.14M1645.15 1726.3V1737.14"/>
</g>
<g class="b" style="font-size:24.6px">
<text text-anchor="end" x="1180.5" y="1428.04">30</text>
<text text-anchor="end" x="1180.5" y="1479.14">25</text>
<text text-anchor="end" x="1180.5" y="1530.34">20</text>
<text text-anchor="end" x="1180.5" y="1581.44">15</text>
<text text-anchor="end" x="1180.5" y="1632.54">10</text>
<text text-anchor="end" x="1180.5" y="1683.74">5</text>
<text text-anchor="end" x="1180.5" y="1734.84">0</text>
<text text-anchor="end" style="font-size:24.9px" transform="translate(1241.42 1761.08) rotate(-35)">Sham control</text>
<text text-anchor="end" style="font-size:24.9px" transform="translate(1323.29 1761.08) rotate(-35)">IMQ control</text>
<text text-anchor="end" style="font-size:24.9px" transform="translate(1398.78 1766.48) rotate(-35)">IMQ + 0.05% w/w Clobetasol</text>
<text text-anchor="end" style="font-size:24.9px" transform="translate(1487.03 1761.08) rotate(-35)">IMQ + ERN 0.5%w/w</text>
<text text-anchor="end" style="font-size:24.9px" transform="translate(1568.9 1761.08) rotate(-35)">IMQ + ERN 1%w/w</text>
<text text-anchor="end" style="font-size:24.9px" transform="translate(1650.77 1761.08) rotate(-35)">IMQ + ERN 2%w/w</text>
</g>
<g stroke="#6c0a9b" stroke-width="3.02" fill="none" stroke-linejoin="miter">
<path d="M1235.9 1600.2V1397.1H1312.1V1410.9"/>
<path d="M1318.9 1410.9V1397.1H1400.7V1600.2"/>
<path d="M1332.1 1361.8V1347.8H1645.7V1583.6M1481.4 1347.8V1514.5M1563.6 1347.8V1544.3"/>
</g>
<text class="s" style="font-size:22px" text-anchor="middle" x="1273.75" y="1373.59">###</text>
<text class="s a" style="font-size:31.83px;letter-spacing:1.61px" text-anchor="middle" x="1360.4" y="1385.13">**</text>
<text class="s a" style="font-size:31.83px;letter-spacing:1.61px" text-anchor="middle" x="1393.1" y="1343.43">*</text>
<text class="s a" style="font-size:31.83px;letter-spacing:1.61px" text-anchor="middle" x="1522.9" y="1339.83">*</text>
<text class="s a" style="font-size:31.83px;letter-spacing:1.61px" text-anchor="middle" x="1617.6" y="1410.33">**</text>
<g fill="#333333" stroke="none">
<path stroke="#333333" stroke-width="2.97" fill="none" d="M1235.8 1622.1V1634.6M1222.41 1622.1H1249.19M1222.41 1634.6H1249.19"/>
<path stroke="#333333" stroke-width="2.97" fill="none" d="M1317.67 1425.2V1468.4M1304.28 1425.2H1331.06M1304.28 1468.4H1331.06"/>
<path stroke="#333333" stroke-width="2.97" fill="none" d="M1399.54 1628.75V1634.6M1386.15 1628.75H1412.93M1386.15 1634.6H1412.93"/>
<path stroke="#333333" stroke-width="2.97" fill="none" d="M1481.41 1576.4V1599.3M1468.02 1576.4H1494.8M1468.02 1599.3H1494.8"/>
<path stroke="#333333" stroke-width="2.97" fill="none" d="M1563.28 1597.5V1613.6M1549.89 1597.5H1576.67M1549.89 1613.6H1576.67"/>
<path stroke="#333333" stroke-width="1.8" fill="none" d="M1645.15 1601.1V1637.2M1631.76 1601.1H1658.54M1631.76 1637.2H1658.54"/>
<circle cx="1235.9" cy="1622" r="8.1"/>
<circle cx="1216.6" cy="1635" r="8.1"/>
<circle cx="1255.4" cy="1628.4" r="8.1"/>
<rect x="1310.93" y="1418.23" width="13.93" height="13.93"/>
<rect x="1310.93" y="1438.23" width="13.93" height="13.93"/>
<rect x="1310.93" y="1461.43" width="13.93" height="13.93"/>
<circle cx="1380.5" cy="1635.4" r="8.1"/>
<circle cx="1399.8" cy="1629.6" r="8.1"/>
<circle cx="1419.1" cy="1630.9" r="8.1"/>
<path d="M1454.11 1569.74H1471.29L1462.7 1586.06Z"/>
<path d="M1492.66 1577.34H1509.84L1501.25 1593.66Z"/>
<path d="M1454.11 1592.34H1471.29L1462.7 1608.66Z"/>
<path d="M1563.2 1588.79L1571.41 1597L1563.2 1605.21L1554.99 1597Z"/>
<path d="M1543.9 1602.69L1552.11 1610.9L1543.9 1619.11L1535.69 1610.9Z"/>
<path d="M1582.9 1602.69L1591.11 1610.9L1582.9 1619.11L1574.69 1610.9Z"/>
<circle cx="1645.4" cy="1598.9" r="6.7"/>
<circle cx="1658.2" cy="1623.9" r="6.7"/>
<circle cx="1632" cy="1634.1" r="6.7"/>
</g>
</g>
</svg>
</body>
</html>
